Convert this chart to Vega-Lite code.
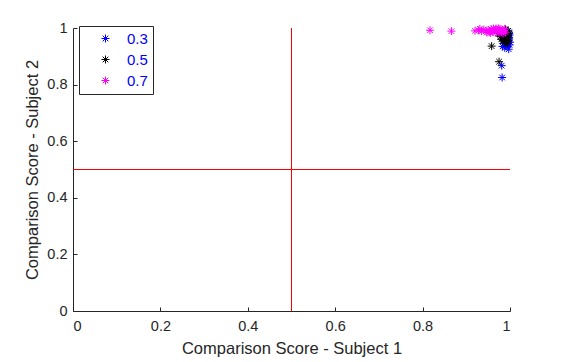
{
  "$schema": "https://vega.github.io/schema/vega-lite/v6.json",
  "width": 437,
  "height": 283,
  "autosize": {"type": "none"},
  "padding": {"left": 73, "top": 28, "right": 54, "bottom": 51},
  "background": "white",
  "config": {
    "view": {"stroke": null},
    "font": "Liberation Sans",
    "axis": {
      "grid": false,
      "domainColor": "#262626",
      "tickColor": "#262626",
      "labelColor": "#262626",
      "titleColor": "#262626",
      "labelFont": "Liberation Sans",
      "titleFont": "Liberation Sans",
      "labelFontSize": 14.5,
      "titleFontSize": 16.5,
      "titleFontWeight": "normal",
      "tickSize": -4,
      "domainWidth": 1
    }
  },
  "datasets": {
    "pts": [
      {"x": 0.995, "y": 0.970, "g": "0.3"}, {"x": 0.998, "y": 0.965, "g": "0.3"}, {"x": 0.992, "y": 0.960, "g": "0.3"},
      {"x": 0.997, "y": 0.955, "g": "0.3"}, {"x": 0.990, "y": 0.950, "g": "0.3"}, {"x": 0.996, "y": 0.948, "g": "0.3"},
      {"x": 0.999, "y": 0.940, "g": "0.3"}, {"x": 0.993, "y": 0.935, "g": "0.3"}, {"x": 0.988, "y": 0.930, "g": "0.3"},
      {"x": 0.997, "y": 0.925, "g": "0.3"}, {"x": 0.985, "y": 0.945, "g": "0.3"}, {"x": 0.999, "y": 0.975, "g": "0.3"},
      {"x": 0.994, "y": 0.980, "g": "0.3"}, {"x": 0.998, "y": 0.985, "g": "0.3"}, {"x": 0.991, "y": 0.972, "g": "0.3"},
      {"x": 0.987, "y": 0.958, "g": "0.3"}, {"x": 0.996, "y": 0.960, "g": "0.3"}, {"x": 1.000, "y": 0.950, "g": "0.3"},
      {"x": 0.983, "y": 0.935, "g": "0.3"}, {"x": 0.992, "y": 0.942, "g": "0.3"}, {"x": 0.981, "y": 0.867, "g": "0.3"},
      {"x": 0.982, "y": 0.825, "g": "0.3"},
      {"x": 0.975, "y": 0.990, "g": "0.5"}, {"x": 0.980, "y": 0.985, "g": "0.5"}, {"x": 0.985, "y": 0.990, "g": "0.5"},
      {"x": 0.990, "y": 0.995, "g": "0.5"}, {"x": 0.993, "y": 0.985, "g": "0.5"}, {"x": 0.988, "y": 0.978, "g": "0.5"},
      {"x": 0.995, "y": 0.975, "g": "0.5"}, {"x": 0.982, "y": 0.975, "g": "0.5"}, {"x": 0.978, "y": 0.970, "g": "0.5"},
      {"x": 0.990, "y": 0.968, "g": "0.5"}, {"x": 0.997, "y": 0.965, "g": "0.5"}, {"x": 0.985, "y": 0.962, "g": "0.5"},
      {"x": 0.992, "y": 0.955, "g": "0.5"}, {"x": 0.980, "y": 0.960, "g": "0.5"}, {"x": 0.995, "y": 0.952, "g": "0.5"},
      {"x": 0.988, "y": 0.950, "g": "0.5"}, {"x": 0.998, "y": 0.980, "g": "0.5"}, {"x": 0.972, "y": 0.980, "g": "0.5"},
      {"x": 0.984, "y": 0.955, "g": "0.5"}, {"x": 0.994, "y": 0.945, "g": "0.5"}, {"x": 0.990, "y": 0.988, "g": "0.5"},
      {"x": 0.996, "y": 0.990, "g": "0.5"}, {"x": 0.958, "y": 0.936, "g": "0.5"}, {"x": 0.975, "y": 0.881, "g": "0.5"},
      {"x": 0.920, "y": 0.990, "g": "0.7"}, {"x": 0.928, "y": 0.992, "g": "0.7"}, {"x": 0.935, "y": 0.989, "g": "0.7"},
      {"x": 0.940, "y": 0.994, "g": "0.7"}, {"x": 0.945, "y": 0.990, "g": "0.7"}, {"x": 0.950, "y": 0.993, "g": "0.7"},
      {"x": 0.953, "y": 0.987, "g": "0.7"}, {"x": 0.957, "y": 0.996, "g": "0.7"}, {"x": 0.960, "y": 0.990, "g": "0.7"},
      {"x": 0.963, "y": 0.985, "g": "0.7"}, {"x": 0.966, "y": 0.993, "g": "0.7"}, {"x": 0.968, "y": 0.998, "g": "0.7"},
      {"x": 0.970, "y": 0.988, "g": "0.7"}, {"x": 0.972, "y": 0.992, "g": "0.7"}, {"x": 0.975, "y": 0.983, "g": "0.7"},
      {"x": 0.977, "y": 0.996, "g": "0.7"}, {"x": 0.979, "y": 0.990, "g": "0.7"}, {"x": 0.980, "y": 0.986, "g": "0.7"},
      {"x": 0.982, "y": 0.994, "g": "0.7"}, {"x": 0.984, "y": 0.980, "g": "0.7"}, {"x": 0.986, "y": 0.991, "g": "0.7"},
      {"x": 0.988, "y": 0.997, "g": "0.7"}, {"x": 0.955, "y": 0.982, "g": "0.7"}, {"x": 0.962, "y": 0.998, "g": "0.7"},
      {"x": 0.947, "y": 0.984, "g": "0.7"}, {"x": 0.973, "y": 0.999, "g": "0.7"}, {"x": 0.990, "y": 0.985, "g": "0.7"},
      {"x": 0.931, "y": 0.997, "g": "0.7"}, {"x": 0.817, "y": 0.992, "g": "0.7"}, {"x": 0.866, "y": 0.989, "g": "0.7"}
    ],
    "refs": [{"v": 0.5}]
  },
  "layer": [
    {
      "data": {"name": "refs"},
      "mark": {"type": "rule", "color": "#FF0000", "strokeWidth": 1},
      "encoding": {"x": {"field": "v", "type": "quantitative"}}
    },
    {
      "data": {"name": "refs"},
      "mark": {"type": "rule", "color": "#FF0000", "strokeWidth": 1},
      "encoding": {"y": {"field": "v", "type": "quantitative"}}
    },
    {
      "data": {"name": "pts"},
      "mark": {
        "type": "point",
        "filled": false,
        "strokeWidth": 1,
        "opacity": 1,
        "size": 64,
        "shape": "M-1,0L1,0M0,-1L0,1M-0.7,-0.7L0.7,0.7M-0.7,0.7L0.7,-0.7"
      },
      "encoding": {
        "x": {
          "field": "x", "type": "quantitative",
          "scale": {"domain": [0, 1], "nice": false, "zero": false},
          "axis": {"values": [0, 0.2, 0.4, 0.6, 0.8, 1], "format": "~g", "title": "Comparison Score - Subject 1", "labelPadding": 12, "titlePadding": 8}
        },
        "y": {
          "field": "y", "type": "quantitative",
          "scale": {"domain": [0, 1], "nice": false, "zero": false},
          "axis": {"values": [0, 0.2, 0.4, 0.6, 0.8, 1], "format": "~g", "title": "Comparison Score - Subject 2", "labelPadding": 10, "titlePadding": 6}
        },
        "color": {
          "field": "g", "type": "nominal",
          "scale": {"domain": ["0.3", "0.5", "0.7"], "range": ["#0000FF", "#000000", "#FF00FF"]},
          "legend": {
            "title": null,
            "orient": "none",
            "legendX": 6,
            "legendY": -2,
            "padding": 5,
            "strokeColor": "#262626",
            "fillColor": "white",
            "labelColor": "#0000FF",
            "labelFontSize": 15,
            "labelFont": "Liberation Sans",
            "symbolType": "M-1,0L1,0M0,-1L0,1M-0.7,-0.7L0.7,0.7M-0.7,0.7L0.7,-0.7",
            "symbolSize": 64,
            "symbolStrokeWidth": 1,
            "symbolOffset": 14,
            "labelOffset": 14,
            "rowPadding": 5,
            "symbolFillColor": "transparent"
          }
        },
        "order": {"field": "g", "type": "nominal"}
      }
    }
  ]
}
